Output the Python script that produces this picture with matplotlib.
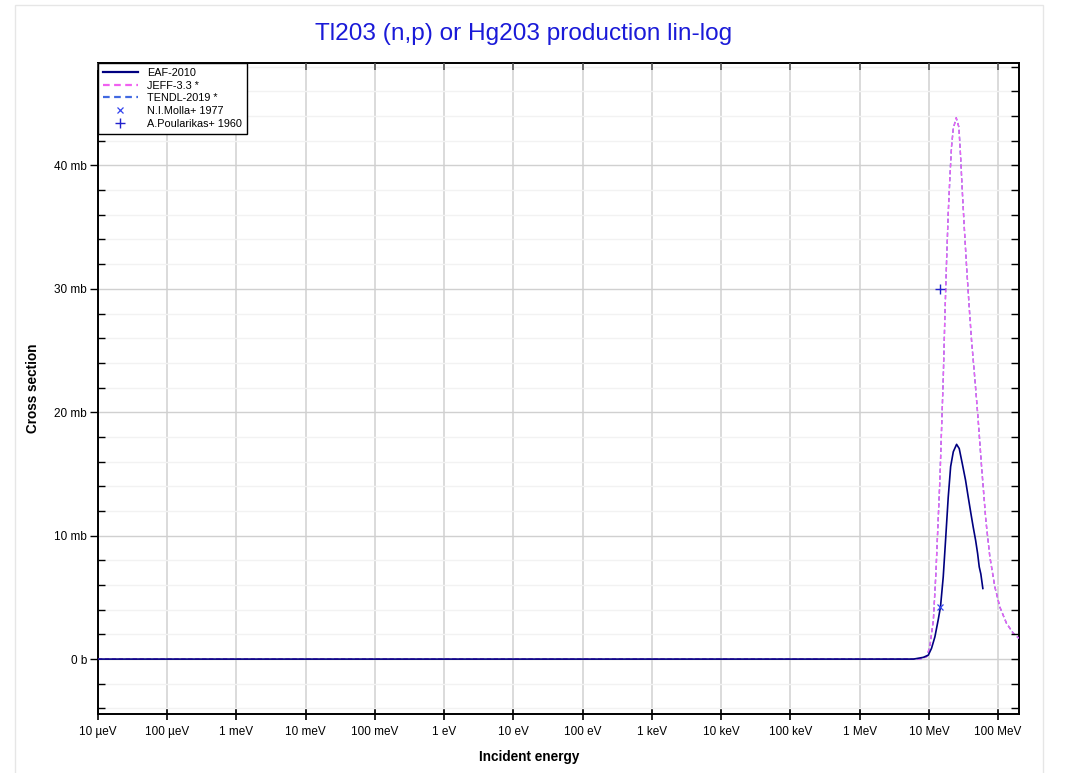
"""Tl203 (n,p) / Hg203 production cross section, lin-log plot."""

import matplotlib
matplotlib.use('Agg')
import matplotlib.pyplot as plt
from matplotlib.patches import Rectangle
from matplotlib.ticker import FixedLocator, MultipleLocator, NullFormatter

plt.rcParams['font.family'] = ['Liberation Sans', 'DejaVu Sans']

# EAF-2010 evaluation (energy in MeV, cross section in mb)
eaf_mev = [1e-11, 6.0, 8.3, 9.8, 10.9, 12.2, 13.6, 14.7, 16.1, 17.4, 19.0,
           20.6, 22.5, 25.1, 27.4, 30.3, 33.8, 36.9, 40.4, 43.6, 47.2,
           50.5, 53.3, 56.2, 60.1]
eaf_mb = [0.0, 0.0, 0.14, 0.32, 0.87, 1.8, 3.16, 4.24, 6.66, 9.64, 13.1,
          15.6, 16.8, 17.4, 17.06, 15.85, 14.5, 13.15, 11.8, 10.7, 9.64,
          8.56, 7.47, 6.9, 5.72]

# JEFF-3.3 evaluation
jeff_mev = [1e-11, 7.5, 9.3, 10.3, 11.6, 12.6, 13.6, 14.4, 15.2, 16.1, 17.0,
            18.0, 19.0, 20.1, 21.2, 22.5, 24.8, 27.1, 28.7, 30.3, 32.4,
            35.0, 38.2, 41.3, 46.1, 51.5, 57.6, 66.4, 75.8, 89.6, 106.0,
            132.0, 165.0, 200.0]
jeff_mb = [0.0, 0.0, 0.2, 1.0, 3.16, 6.9, 11.25, 14.5, 18.5, 22.7, 27.7,
           32.3, 36.1, 39.05, 41.5, 43.0, 43.86, 43.1, 40.7, 38.0, 35.0,
           31.8, 28.5, 25.8, 22.7, 19.35, 15.6, 11.25, 8.3, 5.85, 4.2,
           2.9, 2.1, 1.68]

# TENDL-2019 lies under JEFF-3.3 everywhere
tendl_mev = list(jeff_mev)
tendl_mb = list(jeff_mb)

# EXFOR points
molla_mev = [14.7]
molla_mb = [4.24]
poularikas_mev = [14.7]
poularikas_mb = [30.0]

x_ticks_ev = [1e-5, 1e-4, 1e-3, 1e-2, 1e-1, 1, 10, 100, 1e3, 1e4, 1e5, 1e6, 1e7, 1e8]
x_tick_labels = ['10 µeV', '100 µeV', '1 meV', '10 meV', '100 meV', '1 eV', '10 eV',
                 '100 eV', '1 keV', '10 keV', '100 keV', '1 MeV', '10 MeV', '100 MeV']
y_ticks_mb = [0, 10, 20, 30, 40]
y_tick_labels = ['0 b', '10 mb', '20 mb', '30 mb', '40 mb']

XLIM = (1e-5, 2e8)
YLIM = (-4.45, 48.3)


def to_ev(values):
    return [v * 1e6 for v in values]


fig = plt.figure(figsize=(10.67, 7.73), dpi=100)
fig.patches.append(Rectangle((15 / 1067, -0.01), (1043 - 15) / 1067, 1 - 5 / 773 + 0.01,
                             transform=fig.transFigure, fill=False,
                             edgecolor='#e6e6e6', linewidth=1))
rect = [98 / 1067, 1 - 714 / 773, (1019 - 98) / 1067, (714 - 63) / 773]
ax = fig.add_axes(rect)

ax.plot(to_ev(tendl_mev), tendl_mb, color='#4169e1', linestyle=(0, (3, 2)),
        linewidth=1.0, label='TENDL-2019 *', zorder=3)
ax.plot(to_ev(jeff_mev), jeff_mb, color='#f060f0', linestyle=(0, (3, 2)),
        linewidth=1.0, label='JEFF-3.3 *', zorder=4)
ax.plot(to_ev(eaf_mev), eaf_mb, color='#000080', linewidth=1.2,
        label='EAF-2010', zorder=5)
ax.plot(to_ev(molla_mev), molla_mb, linestyle='none', marker='x', color='#3344ee',
        markersize=5, markeredgewidth=0.9, label='N.I.Molla+ 1977', zorder=6)
ax.plot(to_ev(poularikas_mev), poularikas_mb, linestyle='none', marker='+',
        color='#2222cc', markersize=7, markeredgewidth=1.0,
        label='A.Poularikas+ 1960', zorder=6)

ax.set_xscale('log')
ax.set_xlim(*XLIM)
ax.set_ylim(*YLIM)

ax.xaxis.set_major_locator(FixedLocator(x_ticks_ev))
ax.set_xticklabels(x_tick_labels)
ax.xaxis.set_minor_locator(FixedLocator([]))
ax.set_yticks(y_ticks_mb)
ax.set_yticklabels(y_tick_labels)
ax.yaxis.set_minor_locator(MultipleLocator(2))

ax.grid(True, which='major', axis='x', color='#d8d8d8', linewidth=1.3)
ax.grid(True, which='major', axis='y', color='#d0d0d0', linewidth=1.0)
ax.grid(True, which='minor', axis='y', color='#f2f2f2', linewidth=1.0)
ax.set_axisbelow(True)

for side in ax.spines.values():
    side.set_linewidth(1.4)
    side.set_color('black')

ax.tick_params(axis='x', which='major', direction='inout', length=9, width=1.2,
               labelsize=8.5, pad=4)
ax.tick_params(axis='y', which='major', direction='out', length=6, width=1.0,
               labelsize=8.5, pad=2)
ax.tick_params(axis='y', which='minor', direction='in', length=5, width=1.0)

# inward ticks on the top and right frame
top = ax.twiny()
top.set_xscale('log')
top.set_xlim(*XLIM)
top.xaxis.set_major_locator(FixedLocator(x_ticks_ev))
top.xaxis.set_minor_locator(FixedLocator([]))
top.xaxis.set_major_formatter(NullFormatter())
top.tick_params(axis='x', direction='in', length=5, width=1.2, color='#555555')
right = ax.twinx()
right.set_ylim(*YLIM)
right.yaxis.set_major_locator(MultipleLocator(2))
right.yaxis.set_major_formatter(NullFormatter())
right.tick_params(axis='y', direction='in', length=6, width=1.0)
for twin in (top, right):
    for side in twin.spines.values():
        side.set_visible(False)

ax.set_ylabel('Cross section', fontsize=9.8, fontweight='bold', labelpad=10)
fig.text(529 / 1067, 1 - 757 / 773, 'Incident energy', fontsize=9.8,
         fontweight='bold', ha='center', va='center')
fig.text(524 / 1067, 1 - 34 / 773, 'Tl203 (n,p) or Hg203 production lin-log',
         color='#1a1ad8', fontsize=17.6, ha='center', va='center')

# legend goes on the last twin so it sits above every tick mark
handles, labels = ax.get_legend_handles_labels()
order = [2, 1, 0, 3, 4]
leg = right.legend([handles[i] for i in order], [labels[i] for i in order],
                   loc='upper left', bbox_to_anchor=(0, 1), borderaxespad=0,
                   fontsize=7.8, frameon=True, fancybox=False, edgecolor='black',
                   handlelength=3.2, labelspacing=0.25, borderpad=0.45,
                   handletextpad=0.9, framealpha=1)
leg.get_frame().set_linewidth(1.0)
for line in leg.get_lines()[:3]:
    line.set_linewidth(1.6)

fig.savefig('out.png', dpi=100)
plt.close(fig)
